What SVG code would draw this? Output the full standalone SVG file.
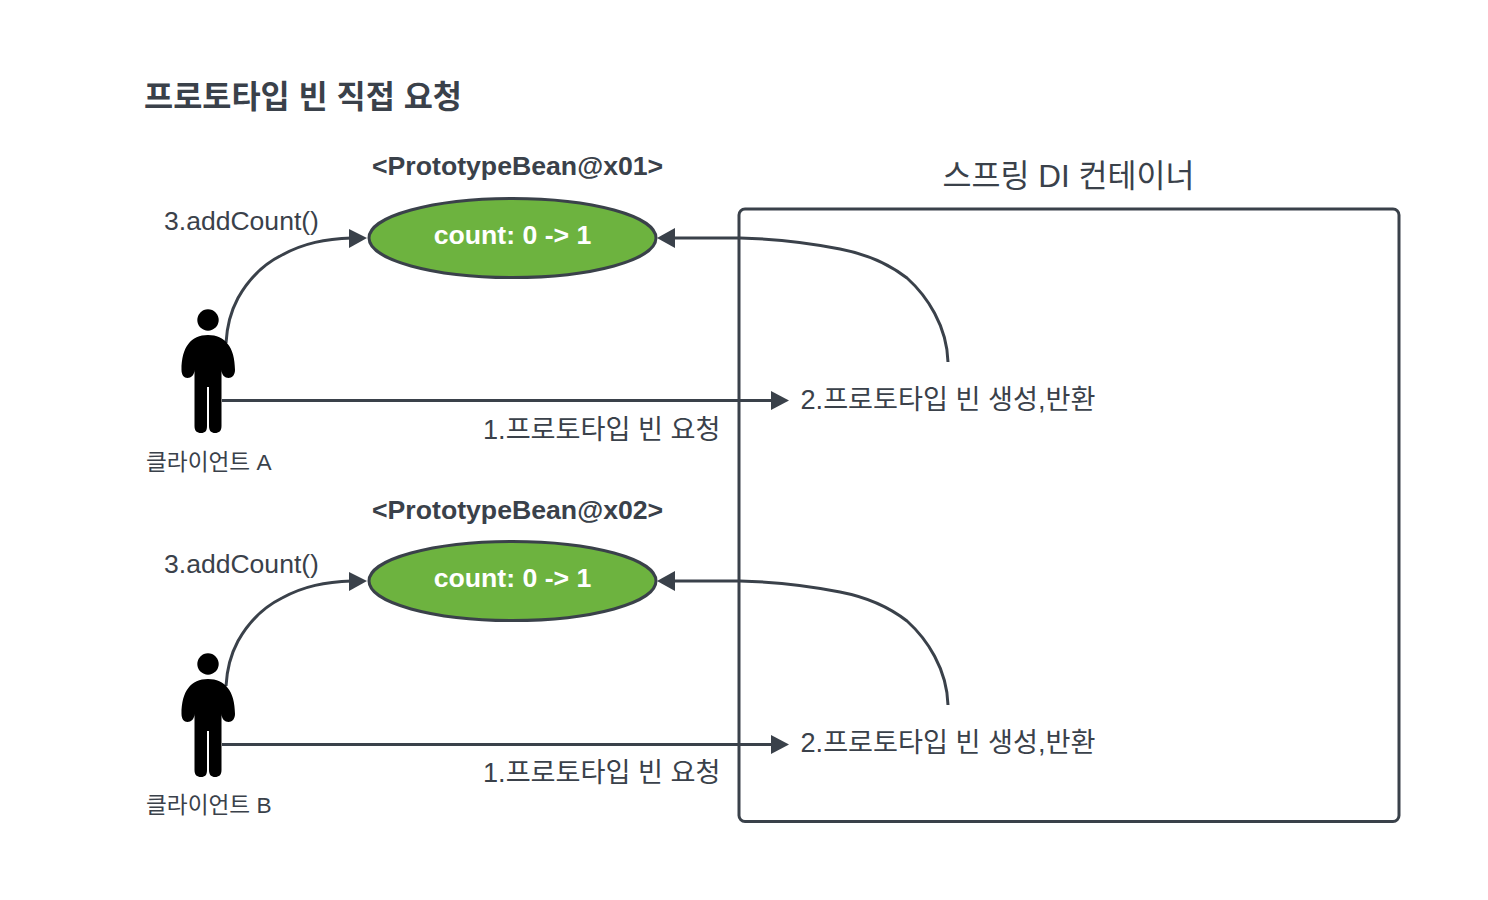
<svg xmlns="http://www.w3.org/2000/svg" width="1488" height="900" viewBox="0 0 1488 900">
<style>
text{font-family:"Liberation Sans","Noto Sans CJK KR",sans-serif;fill:#3a414a}
.l{font-size:26.55px}
.k{font-size:27.15px}
.c{font-size:22.67px}
.b{font-weight:bold;font-size:26.67px}
.w{font-weight:bold;font-size:26.67px;fill:#fff;text-anchor:middle}
.e{fill:#6db33f;stroke:#3a414a;stroke-width:3}
.n{fill:none;stroke:#3a414a;stroke-width:3}
.a{fill:#3a414a}
</style>
<defs>
<g id="person" fill="#000">
<circle cx="208" cy="320" r="10.7"/>
<path d="M208 335C191 335 181.500 347 181.500 370C181.500 375 184 378 187.500 378C191 378 194.500 375 194.500 370L194.500 426C194.500 431 197 433 201 433C205 433 207 431 207 426L207 387L209 387L209 426C209 431 211.500 433 215 433C219 433 221.500 431 221.500 426L221.500 370C221.500 375 225 378 228.500 378C232 378 235 375 235 370C235 347 225 335 208 335Z"/>
</g>
</defs>
<rect width="1488" height="900" fill="#fff"/>
<text id="title" x="144" y="108" style="font-size:31.7px;font-weight:bold">프로토타입 빈 직접 요청</text>
<g id="container"><rect x="739" y="209" width="660" height="612.500" rx="6" fill="none" stroke="#3a414a" stroke-width="3"/><text x="942.500" y="186.500" style="font-size:31.5px">스프링 DI 컨테이너</text></g>
<g id="connectors">
<path class="n" d="M226 343C227 325 231 311 238 298C247 282 262 265 282 255C304 243 325 239 352 238"/>
<path class="a" d="M349 229L367 238L349 248Z"/>
<path class="n" d="M948 362C947 326 927 296 907 278C889 264 866 254 840 249C810 243 780 239 740 238L672 238"/>
<path class="a" d="M675 228L657 238L675 248Z"/>
<path class="n" d="M222 400.500L775 400.500"/>
<path class="a" d="M771 391L789 400.500L771 410Z"/>
<path class="n" d="M226 686C227 668 231 654 238 641C247 625 262 608 282 598C304 586 325 582 352 581"/>
<path class="a" d="M349 572L367 581L349 591Z"/>
<path class="n" d="M948 705C947 669 927 639 907 621C889 607 866 597 840 592C810 586 780 582 740 581L672 581"/>
<path class="a" d="M675 571L657 581L675 591Z"/>
<path class="n" d="M222 744.500L775 744.500"/>
<path class="a" d="M771 735L789 744.500L771 754Z"/>
</g>
<g id="clientA"><use href="#person"/><text class="c" x="146" y="470">클라이언트 A</text></g>
<g id="clientB"><use href="#person" y="344"/><text class="c" x="146" y="813">클라이언트 B</text></g>
<g id="beanA"><text class="b" x="372" y="175">&lt;PrototypeBean@x01&gt;</text><ellipse class="e" cx="512.500" cy="238" rx="143.500" ry="39.500"/><text class="w" x="512.500" y="244">count: 0 -&gt; 1</text></g>
<g id="beanB"><text class="b" x="372" y="519">&lt;PrototypeBean@x02&gt;</text><ellipse class="e" cx="512.500" cy="581" rx="143.500" ry="39.500"/><text class="w" x="512.500" y="587">count: 0 -&gt; 1</text></g>
<g id="labels">
<text class="l" x="164" y="229.500">3.addCount()</text>
<text class="l" x="164" y="572.500">3.addCount()</text>
<text class="k" x="483" y="438.500">1.프로토타입 빈 요청</text>
<text class="k" x="483" y="781.500">1.프로토타입 빈 요청</text>
<text class="k" x="800.500" y="408.500">2.프로토타입 빈 생성,반환</text>
<text class="k" x="800.500" y="751.500">2.프로토타입 빈 생성,반환</text>
</g>
</svg>
